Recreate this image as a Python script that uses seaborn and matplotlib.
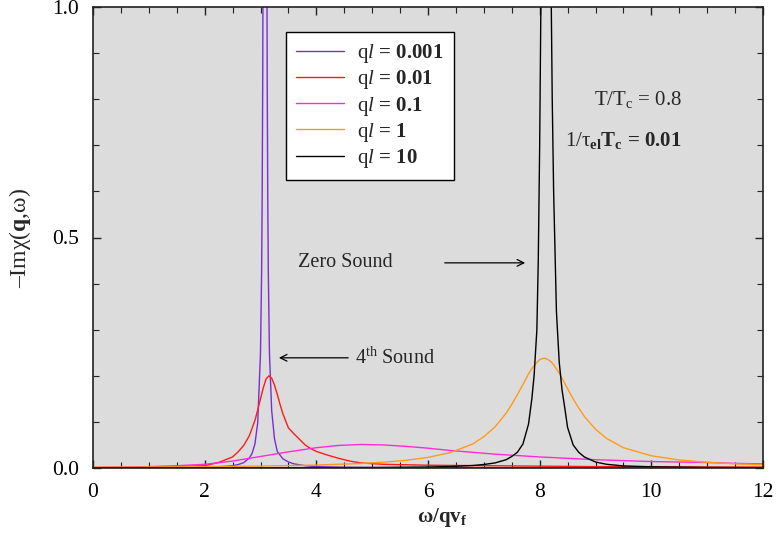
import numpy as np
import pandas as pd
import matplotlib
matplotlib.use("Agg")
import matplotlib.pyplot as plt
import seaborn as sns

# Spectral function -Im chi(q, omega) for several values of q*l
omega_0001 = [0, 1, 2, 2.25, 2.5, 2.6, 2.7, 2.8, 2.85, 2.9, 2.95, 3.0, 3.02, 3.03, 3.04,
              3.05, 3.06, 3.07, 3.08, 3.09, 3.1, 3.11, 3.12, 3.13, 3.14, 3.16, 3.2, 3.25,
              3.3, 3.4, 3.5, 3.6, 3.8, 4.0, 4.5, 5, 6, 8, 10, 12]
chi_0001 = [0.0002, 0.0004, 0.0015, 0.0025, 0.005, 0.0074, 0.0117, 0.0216, 0.032, 0.052,
            0.098, 0.25, 0.425, 0.586, 0.85, 1.31, 2.1, 3.4, 4.25, 3.4, 2.1, 1.31, 0.85,
            0.586, 0.425, 0.25, 0.125, 0.064, 0.036, 0.020, 0.013, 0.009, 0.005, 0.003,
            0.0015, 0.001, 0.0007, 0.0004, 0.0003, 0.0002]

omega_001 = [0, 1, 1.5, 2, 2.25, 2.5, 2.6, 2.7, 2.8, 2.9, 2.95, 3.0, 3.05, 3.1, 3.15, 3.2,
             3.25, 3.3, 3.35, 3.4, 3.5, 3.6, 3.7, 3.8, 3.9, 4.0, 4.2, 4.4, 4.6, 4.8, 5.2,
             5.6, 6, 7, 8, 9, 10, 11, 12]
chi_001 = [0.001, 0.002, 0.003, 0.005, 0.012, 0.024, 0.035, 0.049, 0.070, 0.103, 0.126,
           0.150, 0.174, 0.193, 0.200, 0.195, 0.180, 0.160, 0.138, 0.118, 0.087, 0.074,
           0.062, 0.050, 0.042, 0.036, 0.028, 0.021, 0.015, 0.011, 0.008, 0.007, 0.006,
           0.005, 0.004, 0.003, 0.003, 0.002, 0.002]

omega_01 = [0, 0.5, 1, 1.5, 2, 2.5, 3, 3.5, 4, 4.4, 4.8, 5.2, 5.6, 6, 6.4, 6.8, 7.2, 7.6,
            8, 8.5, 9, 9.5, 10, 10.5, 11, 11.5, 12]
chi_01 = [0.001, 0.002, 0.003, 0.005, 0.008, 0.015, 0.025, 0.035, 0.044, 0.049, 0.051,
          0.050, 0.047, 0.043, 0.038, 0.034, 0.030, 0.027, 0.024, 0.021, 0.018, 0.016,
          0.014, 0.013, 0.012, 0.010, 0.009]

omega_1 = [0, 1, 2, 3, 4, 4.8, 5.2, 5.6, 6.0, 6.4, 6.8, 7.0, 7.2, 7.4, 7.5, 7.6, 7.7, 7.8,
           7.85, 7.9, 7.95, 8.0, 8.05, 8.1, 8.15, 8.2, 8.25, 8.3, 8.35, 8.4, 8.5, 8.6, 8.7,
           8.8, 9.0, 9.2, 9.5, 10, 10.5, 11, 11.5, 12]
chi_1 = [0.0017, 0.0022, 0.0029, 0.0042, 0.0064, 0.0098, 0.0126, 0.0166, 0.023, 0.0335,
         0.052, 0.068, 0.089, 0.119, 0.138, 0.159, 0.181, 0.204, 0.214, 0.222, 0.229,
         0.235, 0.2375, 0.238, 0.235, 0.231, 0.224, 0.215, 0.206, 0.195, 0.172, 0.150,
         0.130, 0.112, 0.084, 0.064, 0.044, 0.0265, 0.0174, 0.0123, 0.009, 0.007]

omega_10 = [0, 2, 4, 5, 6, 6.4, 6.8, 7.0, 7.2, 7.4, 7.5, 7.6, 7.7, 7.8, 7.86, 7.9, 7.95,
            7.975, 8.0, 8.025, 8.05, 8.075, 8.1, 8.125, 8.15, 8.175, 8.2, 8.225, 8.25, 8.3,
            8.35, 8.4, 8.45, 8.5, 8.6, 8.7, 8.8, 9.0, 9.2, 9.5, 10, 11, 12]
chi_10 = [0.0002, 0.0004, 0.0008, 0.001, 0.0021, 0.0032, 0.0054, 0.0076, 0.011, 0.018,
          0.025, 0.034, 0.052, 0.095, 0.15, 0.2, 0.3, 0.45, 0.7, 1.05, 1.7, 3.2, 6.0, 6.5,
          3.7, 1.9, 1.1, 0.8, 0.6, 0.34, 0.23, 0.17, 0.13, 0.088, 0.05, 0.034, 0.024,
          0.013, 0.008, 0.0045, 0.0025, 0.0012, 0.0007]

series_labels = [
    r"$\mathrm{q}\mathit{l}$ = 0.001",
    r"$\mathrm{q}\mathit{l}$ = 0.01",
    r"$\mathrm{q}\mathit{l}$ = 0.1",
    r"$\mathrm{q}\mathit{l}$ = 1",
    r"$\mathrm{q}\mathit{l}$ = 10",
]
series_colors = ["#7a2ecf", "#ff1a1a", "#ff2bd6", "#ff9a1a", "#000000"]
x_ticks = [0, 2, 4, 6, 8, 10, 12]
y_ticks = [0.0, 0.5, 1.0]

sns.set_theme(style="ticks")
plt.rcParams["font.family"] = ["Liberation Serif", "DejaVu Serif"]
plt.rcParams["mathtext.fontset"] = "custom"
plt.rcParams["mathtext.rm"] = "Liberation Serif"
plt.rcParams["mathtext.it"] = "Liberation Serif:italic"
plt.rcParams["mathtext.bf"] = "Liberation Serif:bold"

frames = []
for lab, xs, ys in zip(series_labels,
                       [omega_0001, omega_001, omega_01, omega_1, omega_10],
                       [chi_0001, chi_001, chi_01, chi_1, chi_10]):
    frames.append(pd.DataFrame({"omega": xs, "chi": ys, "series": lab}))
df = pd.concat(frames, ignore_index=True)

fig = plt.figure(figsize=(7.77, 5.43), dpi=100)
ax = fig.add_axes([93 / 777, 1 - 468 / 543, 670 / 777, 461 / 543])
ax.set_facecolor("#dcdcdc")

sns.lineplot(data=df, x="omega", y="chi", hue="series", hue_order=series_labels,
             palette=dict(zip(series_labels, series_colors)), estimator=None,
             linewidth=1.0, ax=ax)

ax.set_xlim(0, 12)
ax.set_ylim(0, 1)
ax.set_xticks(x_ticks)
ax.set_xticklabels([str(t) for t in x_ticks])
ax.set_yticks(y_ticks)
ax.set_yticklabels([f"{t:.1f}" for t in y_ticks])
ax.xaxis.set_minor_locator(matplotlib.ticker.MultipleLocator(0.5))
ax.yaxis.set_minor_locator(matplotlib.ticker.MultipleLocator(0.1))
ax.tick_params(which="both", direction="in", top=True, right=True, colors="#222222",
               labelsize=15.5, labelcolor="black")
ax.tick_params(which="major", length=6, width=1.0)
ax.tick_params(which="minor", length=4, width=0.8)
ax.tick_params(axis="x", which="major", pad=11)
ax.tick_params(axis="y", which="major", pad=10)
for sp in ax.spines.values():
    sp.set_linewidth(1.2)
    sp.set_color("#222222")

ax.set_xlabel(r"ω/qv$_\mathbf{f}$", fontsize=15, fontweight="bold")
ax.xaxis.set_label_coords(0.521, -0.082)
ax.set_ylabel(r"–Imχ($\mathbf{q}$,ω)", fontsize=17)
ax.yaxis.set_label_coords(-0.090, 0.5)

handles, labels = ax.get_legend_handles_labels()
leg = ax.legend(handles, labels, loc="upper left", bbox_to_anchor=(0.288, 0.946),
                borderaxespad=0, prop={"family": "Liberation Serif", "weight": "bold",
                                       "size": 15},
                frameon=True, fancybox=False, edgecolor="black", facecolor="white",
                framealpha=1, handlelength=2.3, labelspacing=0.15, borderpad=0.5,
                handletextpad=0.6)
leg.get_frame().set_linewidth(1.0)

ax.text(9.76, 0.800, r"T/T$_\mathrm{c}$ = 0.8", fontsize=15, ha="center", va="center")
ax.text(9.5, 0.711, r"$\mathrm{1/τ}$$_\mathbf{el}$T$_\mathbf{c}$ = 0.01",
        fontsize=15, fontweight="bold", ha="center", va="center")

ax.text(3.67, 0.445, "Zero Sound", fontsize=14.5, ha="left", va="center")
ax.annotate("", xy=(7.79, 0.445), xytext=(6.25, 0.445),
            arrowprops=dict(arrowstyle="->", color="black", lw=0.9))
ax.text(4.69, 0.239, r"4$^\mathrm{th}$ Sound", fontsize=14.5, ha="left", va="center")
ax.annotate("", xy=(3.28, 0.239), xytext=(4.62, 0.239),
            arrowprops=dict(arrowstyle="->", color="black", lw=0.9))

fig.savefig("out.png", dpi=100, facecolor="white")
